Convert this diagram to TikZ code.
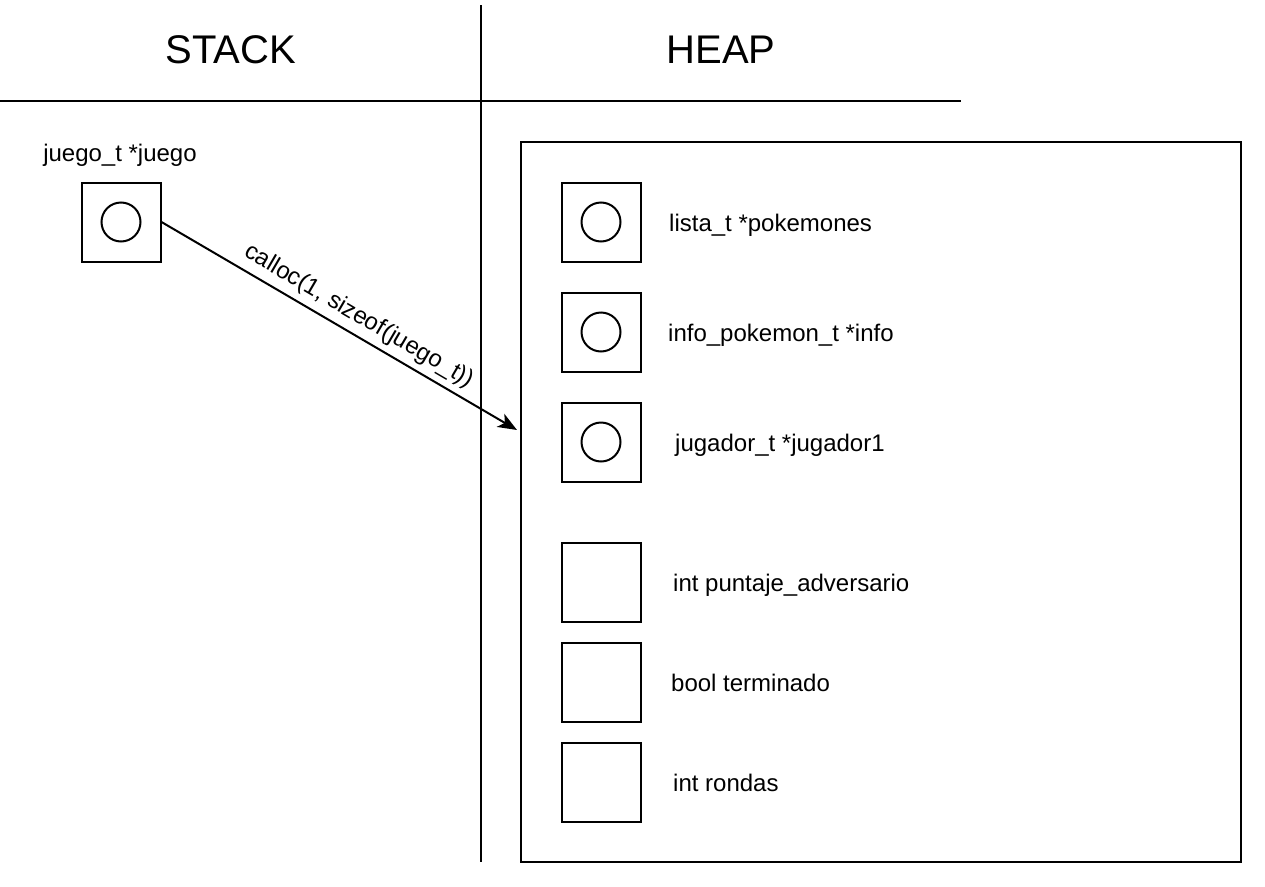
\documentclass[tikz,border=0pt]{standalone}
\usepackage{fontspec}
\setmainfont{Liberation Sans}
\usetikzlibrary{arrows.meta}

\tikzset{
  celda/.style={draw, line width=2pt, minimum size=79pt, inner sep=0pt},
  puntero/.style={draw, circle, line width=2pt, minimum size=39pt, inner sep=0pt},
  etiqueta/.style={anchor=base west, inner sep=0pt, font=\fontsize{24}{28}\selectfont},
  titulo/.style={anchor=base, inner sep=0pt, font=\fontsize{40}{46}\selectfont}
}

\begin{document}
\begin{tikzpicture}[x=1pt, y=-1pt]
    \useasboundingbox (0,0) rectangle (1265,886);

    \draw[line width=2pt] (481,5) -- (481,862);
    \draw[line width=2pt] (0,101) -- (961,101);
    \node[titulo] (stack) at (231,63) {STACK};
    \node[titulo] (heap) at (721,63) {HEAP};

    \node[etiqueta, anchor=base] (njuego) at (120,161) {juego\_t *juego};
    \node[celda] (juego) at (121,222) {};
    \node[puntero] (pjuego) at (121,222) {};

    \draw[line width=2pt] (521,142) rectangle (1241,862);

    \node[celda] (pokemones) at (601,222) {};
    \node[puntero] (ppokemones) at (601,222) {};
    \node[etiqueta] (npokemones) at (669,231) {lista\_t *pokemones};

    \node[celda] (info) at (601,332) {};
    \node[puntero] (pinfo) at (601,332) {};
    \node[etiqueta] (ninfo) at (668,341) {info\_pokemon\_t *info};

    \node[celda] (jugador) at (601,442) {};
    \node[puntero] (pjugador) at (601,442) {};
    \node[etiqueta] (njugador) at (675,451) {jugador\_t *jugador1};

    \node[celda] (puntaje) at (601,582) {};
    \node[etiqueta] (npuntaje) at (673,591) {int puntaje\_adversario};

    \node[celda] (terminado) at (601,682) {};
    \node[etiqueta] (nterminado) at (671,691) {bool terminado};

    \node[celda] (rondas) at (601,782) {};
    \node[etiqueta] (nrondas) at (673,791) {int rondas};

    \coordinate (fin) at (517,430);
    \draw[line width=2pt, -{Stealth[length=19pt, width=15pt, inset=5pt]}] (juego.east) -- (fin)
        node[pos=0.53, sloped, above=6pt, inner sep=0pt, font=\fontsize{24}{28}\selectfont] (calloc) {calloc(1, sizeof(juego\_t))};
\end{tikzpicture}
\end{document}
